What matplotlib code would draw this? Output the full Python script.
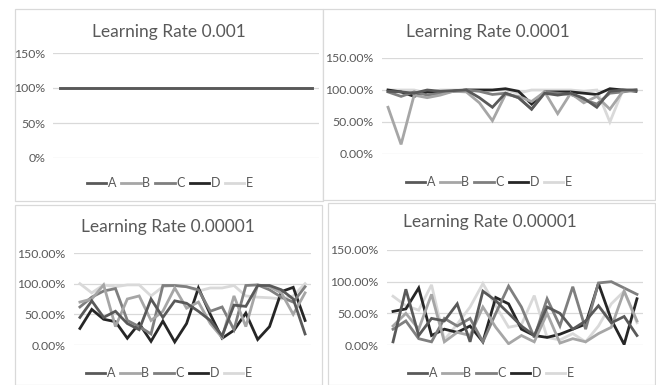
import numpy as np
import matplotlib.pyplot as plt
from matplotlib.patches import Rectangle

plt.rcParams['font.family'] = ['Lato', 'DejaVu Sans']

W, H = 656, 385

names = ['A', 'B', 'C', 'D', 'E']
colors = ['#595959', '#a6a6a6', '#7f7f7f', '#262626', '#d9d9d9']
steps = np.arange(20)

# accuracy (%) per step for each learning rate
lr_001 = {
    'A': [100] * 20,
    'B': [100] * 20,
    'C': [100] * 20,
    'D': [100] * 20,
    'E': [100] * 20,
}
lr_0001 = {
    'A': [98, 97, 95, 100, 98, 99, 100, 88, 73, 95, 88, 70, 95, 92, 95, 87, 73, 98, 100, 100],
    'B': [73, 15, 92, 88, 92, 98, 97, 80, 52, 93, 90, 82, 97, 63, 95, 80, 90, 70, 98, 100],
    'C': [97, 90, 97, 92, 95, 98, 100, 98, 93, 95, 88, 70, 97, 95, 93, 85, 78, 95, 97, 100],
    'D': [100, 97, 90, 97, 96, 98, 100, 100, 100, 102, 98, 78, 97, 97, 97, 95, 93, 102, 100, 98],
    'E': [100, 100, 100, 95, 100, 100, 100, 100, 100, 100, 95, 100, 100, 100, 100, 98, 100, 50, 100, 100],
}
lr_00001_a = {
    'A': [45, 72, 45, 55, 35, 25, 75, 45, 72, 68, 55, 40, 15, 65, 63, 97, 97, 90, 75, 18],
    'B': [70, 75, 98, 30, 75, 80, 40, 55, 93, 60, 70, 35, 12, 80, 30, 98, 95, 85, 50, 85],
    'C': [62, 78, 88, 92, 40, 30, 18, 97, 97, 95, 90, 55, 62, 25, 97, 98, 90, 78, 70, 95],
    'D': [27, 58, 42, 38, 11, 35, 6, 39, 5, 35, 93, 50, 11, 24, 52, 9, 30, 87, 94, 40],
    'E': [100, 85, 98, 95, 98, 98, 80, 95, 97, 95, 88, 93, 93, 97, 80, 78, 77, 75, 80, 100],
}
lr_00001_b = {
    'A': [5, 88, 15, 42, 38, 65, 5, 85, 70, 50, 30, 15, 60, 50, 25, 38, 62, 35, 45, 15],
    'B': [30, 50, 25, 80, 5, 20, 15, 60, 28, 2, 15, 5, 50, 3, 10, 5, 18, 28, 85, 38],
    'C': [25, 38, 10, 5, 42, 30, 42, 5, 50, 93, 60, 12, 73, 30, 92, 25, 98, 100, 90, 80],
    'D': [53, 57, 90, 15, 25, 20, 30, 5, 75, 65, 25, 15, 12, 17, 25, 33, 97, 40, 1, 73],
    'E': [77, 62, 55, 95, 8, 33, 60, 97, 62, 28, 32, 78, 12, 8, 18, 5, 30, 65, 85, 35],
}

# (title, data, tick format, panel box, plot box, title center, legend center) in pixels
panels = [
    ('Learning Rate 0.001', lr_001, '{:.0f}%', (15, 9, 323, 201), (53.4, 53, 318.6, 158), (169, 32), (170, 183)),
    ('Learning Rate 0.0001', lr_0001, '{:.2f}%', (323, 9, 655, 200), (381.5, 58, 642.5, 154), (488, 32), (489, 182)),
    ('Learning Rate 0.00001', lr_00001_a, '{:.2f}%', (15, 205, 322, 385), (74, 253, 311, 345), (168, 227), (169, 373)),
    ('Learning Rate 0.00001', lr_00001_b, '{:.2f}%', (328, 203, 655, 385), (386.6, 250, 643.4, 345), (490, 222), (491, 373)),
]

fig = plt.figure(figsize=(W / 100, H / 100), dpi=100)

for title, data, fmt, box, plot, tpos, lpos in panels:
    bx0, by0, bx1, by1 = box
    fig.patches.append(Rectangle((bx0 / W, 1 - by1 / H), (bx1 - bx0) / W, (by1 - by0) / H,
                                 transform=fig.transFigure, facecolor='white',
                                 edgecolor='#d9d9d9', linewidth=0.9, zorder=-5))

    x0, y0, x1, y1 = plot
    ax = fig.add_axes([x0 / W, 1 - y1 / H, (x1 - x0) / W, (y1 - y0) / H])
    ax.patch.set_alpha(0)
    for i, name in enumerate(names):
        ax.plot(steps, data[name], color=colors[i], lw=2.0, label=name,
                zorder=10 - i, solid_joinstyle='miter')

    ax.set_xlim(-0.5, 19.5)
    ax.set_ylim(0, 150)
    ax.set_yticks([0, 50, 100, 150])
    ax.set_yticklabels([fmt.format(v) for v in [0, 50, 100, 150]])
    ax.set_xticks([])
    ax.grid(axis='y', color='#d9d9d9', lw=0.9)
    ax.set_axisbelow(True)
    for s in ax.spines.values():
        s.set_visible(False)
    ax.tick_params(axis='y', length=0, pad=6, labelsize=8.8, labelcolor='#595959')

    fig.text(tpos[0] / W, 1 - tpos[1] / H, title, ha='center', va='center',
             fontsize=12.5, color='#595959')

    ax.legend(loc='center', bbox_to_anchor=(lpos[0] / W, 1 - lpos[1] / H),
              bbox_transform=fig.transFigure, ncol=5, frameon=False,
              fontsize=9, labelcolor='#595959', handlelength=1.55,
              handletextpad=0.12, columnspacing=0.4)

fig.savefig('out.png', dpi=100, facecolor='white')
